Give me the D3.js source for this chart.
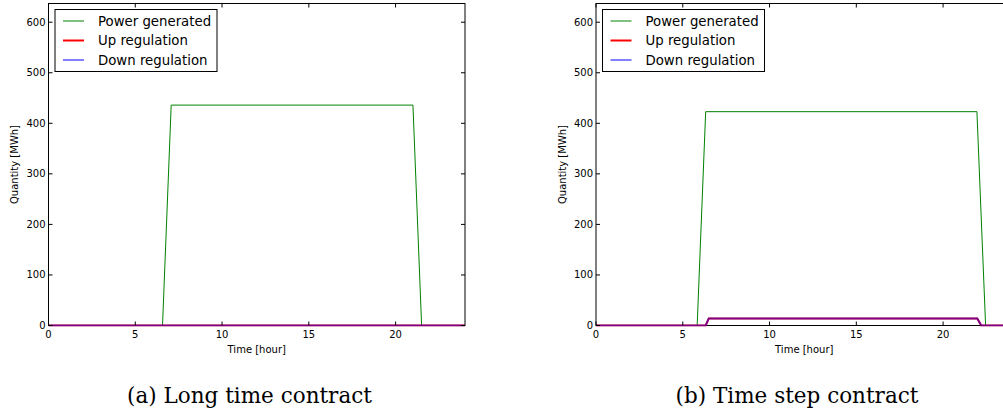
<!DOCTYPE html>
<meta charset='utf-8'>
<style>
body { margin: 0; background: #fff; }
svg { display: block; }
text { font-family: 'DejaVu Sans', sans-serif; fill: #000; }
.caption { font-family: 'DejaVu Serif', serif; font-size: 21.5px; }
</style>
<svg width="1003" height="412"></svg>
<script src="https://cdn.jsdelivr.net/npm/d3@7"></script>
<script>

// (a) long time contract
const timeA   = [0, 6.57, 7.07, 21.0, 21.5, 24];
const powerA  = [0, 0, 436, 436, 0, 0];
const upA     = [0, 0, 0, 0, 0, 0];
const downA   = [0, 0, 0, 0, 0, 0];

// (b) time step contract
const timeB    = [0, 5.83, 6.32, 21.95, 22.45, 24];
const powerB   = [0, 0, 423, 423, 0, 0];
const regTimeB = [0, 6.32, 6.5, 21.97, 22.2, 24];
const upB      = [0, 0, 14, 14, 0, 0];
const downB    = [0, 0, 14, 14, 0, 0];

const xTicks = [0, 5, 10, 15, 20];
const yTicks = [0, 100, 200, 300, 400, 500, 600];
const legendLabels = ['Power generated', 'Up regulation', 'Down regulation'];
const captions = ['(a) Long time contract', '(b) Time step contract'];

const svg = d3.select('svg');

// op: opacity of the plotted line (down regulation sits over up regulation -> purple)
const panels = [
  { left: 48.5, caption: captions[0], series: [
      { t: timeA, v: powerA, color: '#008000', w: 1, lw: 1, op: 1 },
      { t: timeA, v: upA, color: '#ff0000', w: 2, lw: 2, op: 1 },
      { t: timeA, v: downA, color: '#0000ff', w: 1, lw: 2, op: 0.5 } ] },
  { left: 596, caption: captions[1], series: [
      { t: timeB, v: powerB, color: '#008000', w: 1, lw: 1, op: 1 },
      { t: regTimeB, v: upB, color: '#ff0000', w: 2, lw: 2, op: 1 },
      { t: regTimeB, v: downB, color: '#0000ff', w: 1, lw: 2, op: 0.5 } ] }
];

const plotTop = 3.5, plotBottom = 325.5, plotW = 416.5;

panels.forEach((p, i) => {
  const h = plotBottom - plotTop;
  const x = d3.scaleLinear().domain([0, 24]).range([0, plotW]);
  const y = d3.scaleLinear().domain([0, 637]).range([h, 0]);

  const g = svg.append('g').attr('transform', `translate(${p.left},${plotTop})`);

  svg.append('clipPath').attr('id', 'clip' + i)
    .append('rect').attr('x', -1).attr('y', -1).attr('width', plotW + 2).attr('height', h + 2);

  const line = d3.line().x(d => x(d[0])).y(d => y(d[1]));

  // frame
  g.append('rect').attr('width', plotW).attr('height', h)
    .attr('fill', 'none').attr('stroke', '#000').attr('stroke-width', 1);

  const lines = g.append('g').attr('clip-path', `url(#clip${i})`);
  p.series.forEach(s => {
    lines.append('path')
      .datum(s.t.map((t, k) => [t, s.v[k]]))
      .attr('d', line)
      .attr('fill', 'none')
      .attr('stroke', s.color)
      .attr('stroke-opacity', s.op)
      .attr('stroke-width', s.lw);
  });

  // ticks inside, all four sides
  const tk = g.append('g').attr('stroke', '#000').attr('stroke-width', 1);
  xTicks.forEach(t => {
    tk.append('line').attr('x1', x(t)).attr('x2', x(t)).attr('y1', h).attr('y2', h - 4);
    tk.append('line').attr('x1', x(t)).attr('x2', x(t)).attr('y1', 0).attr('y2', 4);
  });
  yTicks.forEach(t => {
    tk.append('line').attr('x1', 0).attr('x2', 4).attr('y1', y(t)).attr('y2', y(t));
    tk.append('line').attr('x1', plotW).attr('x2', plotW - 4).attr('y1', y(t)).attr('y2', y(t));
  });

  g.selectAll('.xt').data(xTicks).join('text')
    .attr('x', d => x(d)).attr('y', h + 12.5)
    .attr('text-anchor', 'middle').style('font-size', '10px')
    .text(d => d);
  g.selectAll('.yt').data(yTicks).join('text')
    .attr('x', -3).attr('y', d => y(d) + 3.5)
    .attr('text-anchor', 'end').style('font-size', '10px')
    .text(d => d);

  g.append('text').attr('x', plotW / 2).attr('y', h + 27)
    .attr('text-anchor', 'middle').style('font-size', '10px')
    .text('Time [hour]');
  g.append('text')
    .attr('transform', `translate(${(i === 0 ? 18 : 565.5) - p.left},${h / 2}) rotate(-90)`)
    .attr('text-anchor', 'middle').style('font-size', '10px')
    .text('Quantity [MWh]');

  // legend
  const lg = g.append('g').attr('transform', 'translate(6.5,6)');
  lg.append('rect').attr('width', 162).attr('height', 62)
    .attr('fill', '#fff').attr('stroke', '#000').attr('stroke-width', 1);
  p.series.forEach((s, k) => {
    const yy = 11.5 + k * 19.5;
    lg.append('line').attr('x1', 8).attr('x2', 29).attr('y1', yy).attr('y2', yy)
      .attr('stroke', s.color).attr('stroke-width', s.w);
    lg.append('text').attr('x', 43).attr('y', yy + 4.5)
      .style('font-size', '13.3px').text(legendLabels[k]);
  });

  svg.append('text').attr('class', 'caption')
    .attr('x', p.left + 201).attr('y', 403)
    .attr('text-anchor', 'middle')
    .text(p.caption);
});

</script>
